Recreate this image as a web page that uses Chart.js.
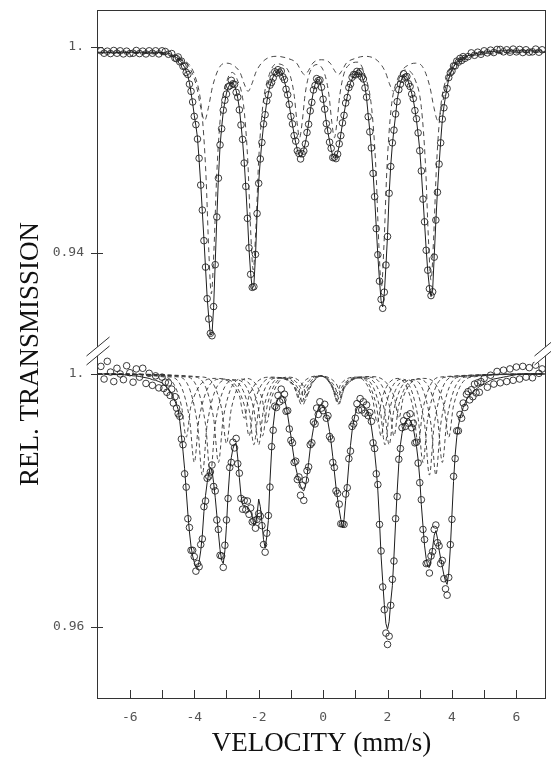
<!DOCTYPE html>
<html>
<head>
<meta charset="utf-8">
<script src="https://cdn.jsdelivr.net/npm/chart.js@4.4.1/dist/chart.umd.min.js"></script>
<style>
  html, body { margin: 0; padding: 0; background: #fff; }
  #wrap { width: 551px; height: 765px; }
</style>
</head>
<body>
<div id="wrap"><canvas id="spectrum" width="551" height="765"></canvas></div>
<script>
// x axis ticks (mm/s) and y tick values for the two panels
const velocityTicks = [-6, -5, -4, -3, -2, -1, 0, 1, 2, 3, 4, 5, 6];
const topTickValues = [1.0, 0.94];
const topTickLabels = ['1.', '0.94'];
const bottomTickValues = [1.0, 0.96];
const bottomTickLabels = ['1.', '0.96'];

// upper spectrum
const topVelocity = [
  -6.9,-6.8,-6.7,-6.6,-6.5,-6.4,-6.3,-6.2,-6.1,-6.0,
  -5.9,-5.8,-5.7,-5.6,-5.5,-5.4,-5.3,-5.2,-5.1,-5.0,
  -4.9,-4.8,-4.7,-4.6,
  -4.55,-4.5,-4.45,-4.4,-4.35,-4.3,-4.25,-4.2,-4.15,-4.1,
  -4.05,-4.0,-3.95,-3.9,-3.85,-3.8,-3.75,-3.7,-3.65,-3.6,
  -3.55,-3.5,-3.45,-3.4,-3.35,-3.3,-3.25,-3.2,-3.15,-3.1,
  -3.05,-3.0,-2.95,-2.9,-2.85,-2.8,-2.75,-2.7,-2.65,-2.6,
  -2.55,-2.5,-2.45,-2.4,-2.35,-2.3,-2.25,-2.2,-2.15,-2.1,
  -2.05,-2.0,-1.95,-1.9,-1.85,-1.8,-1.75,-1.7,-1.65,-1.6,
  -1.55,-1.5,-1.45,-1.4,-1.35,-1.3,-1.25,-1.2,-1.15,-1.1,
  -1.05,-1.0,-0.95,-0.9,-0.85,-0.8,-0.75,-0.7,-0.65,-0.6,
  -0.55,-0.5,-0.45,-0.4,-0.35,-0.3,-0.25,-0.2,-0.15,-0.1,
  -0.05,0.0,0.05,0.1,0.15,0.2,0.25,0.3,0.35,0.4,
  0.45,0.5,0.55,0.6,0.65,0.7,0.75,0.8,0.85,0.9,
  0.95,1.0,1.05,1.1,1.15,1.2,1.25,1.3,1.35,1.4,
  1.45,1.5,1.55,1.6,1.65,1.7,1.75,1.8,1.85,1.9,
  1.95,2.0,2.05,2.1,2.15,2.2,2.25,2.3,2.35,2.4,
  2.45,2.5,2.55,2.6,2.65,2.7,2.75,2.8,2.85,2.9,
  2.95,3.0,3.05,3.1,3.15,3.2,3.25,3.3,3.35,3.4,
  3.45,3.5,3.55,3.6,3.65,3.7,3.75,3.8,3.85,3.9,
  3.95,4.0,4.05,4.1,4.15,4.2,4.25,4.3,4.35,4.4,
  4.5,4.6,4.7,4.8,4.9,5.0,5.1,5.2,5.3,5.4,
  5.5,5.6,5.7,5.8,5.9,6.0,6.1,6.2,6.3,6.4,
  6.5,6.6,6.7,6.8
];
const topObserved = [
  .9988,.9981,.9987,.9980,.9989,.9981,.9988,.9979,.9987,.9980,
  .9981,.9989,.9980,.9987,.9979,.9988,.9981,.9988,.9979,.9988,
  .9986,.9978,.9980,.9967,
  .9965,.9970,.9956,.9958,.9943,.9944,.9925,.9919,.9891,.9870,
  .9839,.9797,.9773,.9731,.9675,.9597,.9524,.9435,.9358,.9266,
  .9207,.9165,.9158,.9243,.9365,.9504,.9617,.9714,.9761,.9815,
  .9844,.9862,.9883,.9886,.9902,.9892,.9890,.9867,.9853,.9816,
  .9772,.9730,.9661,.9593,.9500,.9414,.9337,.9299,.9301,.9395,
  .9514,.9602,.9673,.9721,.9775,.9802,.9842,.9860,.9888,.9896,
  .9909,.9927,.9923,.9933,.9924,.9929,.9912,.9904,.9876,.9860,
  .9832,.9797,.9775,.9741,.9725,.9697,.9689,.9673,.9688,.9696,
  .9717,.9750,.9774,.9813,.9838,.9874,.9887,.9907,.9901,.9903,
  .9882,.9847,.9818,.9776,.9755,.9722,.9704,.9677,.9678,.9674,
  .9687,.9717,.9741,.9778,.9800,.9836,.9852,.9881,.9891,.9911,
  .9919,.9918,.9928,.9922,.9927,.9912,.9906,.9880,.9853,.9796,
  .9752,.9705,.9631,.9563,.9470,.9394,.9317,.9264,.9238,.9285,
  .9364,.9447,.9573,.9651,.9720,.9757,.9804,.9840,.9875,.9891,
  .9905,.9921,.9911,.9913,.9892,.9884,.9862,.9849,.9814,.9790,
  .9749,.9697,.9638,.9556,.9490,.9407,.9349,.9295,.9275,.9286,
  .9387,.9495,.9576,.9658,.9720,.9789,.9822,.9859,.9878,.9910,
  .9924,.9929,.9944,.9944,.9958,.9955,.9966,.9960,.9971,.9966,
  .9971,.9982,.9975,.9984,.9978,.9988,.9982,.9990,.9983,.9992,
  .9992,.9985,.9991,.9984,.9993,.9985,.9992,.9983,.9991,.9984,
  .9985,.9993,.9984,.9991
];
const topFit = [
  .9984,.9984,.9984,.9984,.9984,.9984,.9984,.9984,.9984,.9984,
  .9984,.9984,.9984,.9984,.9984,.9984,.9984,.9984,.9983,.9983,
  .9982,.9981,.9977,.9971,
  .9968,.9965,.9960,.9955,.9948,.9940,.9928,.9915,.9895,.9865,
  .9835,.9800,.9770,.9735,.9670,.9600,.9520,.9440,.9355,.9270,
  .9210,.9160,.9162,.9240,.9370,.9500,.9620,.9710,.9765,.9810,
  .9840,.9865,.9880,.9890,.9897,.9895,.9886,.9872,.9850,.9820,
  .9775,.9725,.9665,.9590,.9505,.9410,.9340,.9295,.9305,.9390,
  .9510,.9605,.9670,.9725,.9770,.9805,.9838,.9865,.9885,.9900,
  .9912,.9922,.9927,.9930,.9929,.9925,.9915,.9900,.9880,.9855,
  .9828,.9800,.9772,.9745,.9720,.9700,.9685,.9678,.9685,.9700,
  .9720,.9745,.9778,.9810,.9843,.9870,.9890,.9903,.9905,.9898,
  .9878,.9850,.9815,.9780,.9750,.9725,.9700,.9682,.9675,.9678,
  .9690,.9712,.9745,.9775,.9805,.9832,.9855,.9877,.9895,.9906,
  .9915,.9921,.9925,.9926,.9922,.9915,.9902,.9885,.9850,.9800,
  .9755,.9700,.9635,.9560,.9475,.9390,.9320,.9260,.9242,.9280,
  .9360,.9450,.9570,.9655,.9715,.9760,.9800,.9845,.9872,.9895,
  .9908,.9916,.9915,.9910,.9897,.9880,.9865,.9845,.9818,.9785,
  .9745,.9700,.9635,.9560,.9485,.9410,.9345,.9300,.9272,.9290,
  .9390,.9490,.9580,.9655,.9725,.9785,.9825,.9855,.9882,.9905,
  .9920,.9932,.9941,.9948,.9953,.9958,.9962,.9965,.9968,.9970,
  .9974,.9977,.9979,.9981,.9983,.9984,.9985,.9986,.9987,.9987,
  .9988,.9988,.9988,.9988,.9988,.9988,.9988,.9988,.9988,.9988,
  .9988,.9988,.9988,.9988
];
// upper subspectra: [velocity, transmission]
const topSiteA = [
  [-7.0,.9983],[-5.0,.9977],[-4.5,.9966],[-3.97,.9912],[-3.77,.9814],[-3.64,.9632],[-3.55,.9407],
  [-3.47,.928],[-3.39,.9407],[-3.30,.9632],[-3.17,.9814],[-2.97,.9905],[-2.82,.9925],[-2.67,.9905],
  [-2.47,.983],[-2.34,.967],[-2.25,.9465],[-2.17,.935],[-2.09,.9465],[-2.0,.967],[-1.87,.983],
  [-1.67,.9919],[-1.45,.995],[-1.23,.9945],[-1.03,.9918],[-0.9,.986],[-0.81,.978],[-0.73,.9735],
  [-0.65,.978],[-0.56,.986],[-0.43,.992],[-0.19,.9948],[0.05,.992],[0.18,.986],[0.27,.978],
  [0.35,.9735],[0.43,.978],[0.52,.986],[0.65,.9922],[0.85,.995],[1.08,.9955],[1.31,.9914],
  [1.51,.9818],[1.64,.9643],[1.73,.9424],[1.81,.930],[1.89,.9424],[1.98,.9643],[2.11,.9818],
  [2.31,.9905],[2.57,.9932],[2.85,.9905],[3.05,.9823],[3.18,.9653],[3.27,.944],[3.35,.932],
  [3.43,.944],[3.52,.9653],[3.65,.9823],[3.85,.9912],[4.35,.9966],[5.0,.9977],[6.9,.9984]
];
const topSiteB = [
  [-7.0,.9984],[-5.0,.998],[-4.6,.9968],[-4.3,.9955],[-4.18,.9945],[-3.93,.9885],[-3.8,.9823],
  [-3.68,.9785],[-3.56,.9823],[-3.43,.9885],[-3.18,.9945],[-3.0,.9952],[-2.83,.9948],[-2.58,.9925],
  [-2.45,.9892],[-2.33,.987],[-2.21,.9892],[-2.08,.9927],[-1.83,.996],[-1.45,.9972],[-1.07,.9965],
  [-0.82,.9952],[-0.69,.9931],[-0.57,.9918],[-0.45,.9931],[-0.32,.9952],[-0.05,.9962],[0.22,.9952],
  [0.35,.9931],[0.47,.9918],[0.59,.9931],[0.72,.9952],[0.97,.9965],[1.3,.9972],[1.68,.996],
  [1.93,.9927],[2.06,.9892],[2.18,.987],[2.30,.9892],[2.43,.9927],[2.68,.9948],[2.87,.9952],
  [3.06,.9945],[3.31,.9885],[3.44,.9823],[3.56,.9785],[3.68,.9823],[3.81,.9885],[4.06,.9945],
  [4.18,.9957],[4.5,.9968],[5.0,.998],[6.9,.9985]
];

// lower spectrum
const bottomVelocity = [
  -6.9,-6.8,-6.7,-6.6,-6.5,-6.4,-6.3,-6.2,-6.1,-6.0,
  -5.9,-5.8,-5.7,-5.6,-5.5,-5.4,-5.3,-5.2,-5.1,
  -5.0,-4.95,-4.9,-4.85,-4.8,-4.75,-4.7,-4.65,-4.6,-4.55,
  -4.5,-4.45,-4.4,-4.35,-4.3,-4.25,-4.2,-4.15,-4.1,-4.05,
  -4.0,-3.95,-3.9,-3.85,-3.8,-3.75,-3.7,-3.65,-3.6,-3.55,
  -3.5,-3.45,-3.4,-3.35,-3.3,-3.25,-3.2,-3.15,-3.1,-3.05,
  -3.0,-2.95,-2.9,-2.85,-2.8,-2.75,-2.7,-2.65,-2.6,-2.55,
  -2.5,-2.45,-2.4,-2.35,-2.3,-2.25,-2.2,-2.15,-2.1,-2.05,
  -2.0,-1.95,-1.9,-1.85,-1.8,-1.75,-1.7,-1.65,-1.6,-1.55,
  -1.5,-1.45,-1.4,-1.35,-1.3,-1.25,-1.2,-1.15,-1.1,-1.05,
  -1.0,-0.95,-0.9,-0.85,-0.8,-0.75,-0.7,-0.65,-0.6,-0.55,
  -0.5,-0.45,-0.4,-0.35,-0.3,-0.25,-0.2,-0.15,-0.1,-0.05,
  0.0,0.05,0.1,0.15,0.2,0.25,0.3,0.35,0.4,0.45,
  0.5,0.55,0.6,0.65,0.7,0.75,0.8,0.85,0.9,0.95,
  1.0,1.05,1.1,1.15,1.2,1.25,1.3,1.35,1.4,1.45,
  1.5,1.55,1.6,1.65,1.7,1.75,1.8,1.85,1.9,1.95,
  2.0,2.05,2.1,2.15,2.2,2.25,2.3,2.35,2.4,2.45,
  2.5,2.55,2.6,2.65,2.7,2.75,2.8,2.85,2.9,2.95,
  3.0,3.05,3.1,3.15,3.2,3.25,3.3,3.35,3.4,3.45,
  3.5,3.55,3.6,3.65,3.7,3.75,3.8,3.85,3.9,3.95,
  4.0,4.05,4.1,4.15,4.2,4.25,4.3,4.35,4.4,4.45,
  4.5,4.55,4.6,4.65,4.7,4.75,4.8,4.85,4.9,
  5.0,5.1,5.2,5.3,5.4,5.5,5.6,5.7,5.8,5.9,
  6.0,6.1,6.2,6.3,6.4,6.5,6.6,6.7,6.8
];
const bottomObserved = [
  1.0012,.9992,1.0020,1.0003,.9988,1.0009,1.0000,.9991,1.0013,1.0002,
  .9987,1.0008,.9995,1.0009,.9985,1.0001,.9982,.9997,.9978,
  .9995,.9977,.9987,.9971,.9986,.9966,.9976,.9954,.9964,.9946,
  .9937,.9933,.9897,.9888,.9842,.9821,.9771,.9757,.9721,.9721,
  .9711,.9688,.9700,.9695,.9730,.9739,.9790,.9799,.9835,.9838,
  .9845,.9856,.9822,.9815,.9769,.9754,.9713,.9712,.9694,.9729,
  .9769,.9803,.9852,.9860,.9892,.9883,.9898,.9858,.9843,.9803,
  .9786,.9800,.9785,.9799,.9778,.9788,.9766,.9768,.9756,.9770,
  .9779,.9775,.9760,.9730,.9718,.9748,.9776,.9821,.9885,.9911,
  .9949,.9947,.9966,.9956,.9976,.9959,.9968,.9941,.9942,.9913,
  .9895,.9891,.9860,.9862,.9833,.9837,.9808,.9824,.9800,.9832,
  .9847,.9853,.9888,.9891,.9924,.9921,.9946,.9936,.9956,.9946,
  .9942,.9952,.9930,.9934,.9901,.9897,.9860,.9852,.9815,.9811,
  .9794,.9763,.9763,.9762,.9810,.9820,.9866,.9878,.9917,.9921,
  .9930,.9953,.9943,.9961,.9943,.9956,.9938,.9951,.9934,.9939,
  .9925,.9891,.9882,.9842,.9825,.9762,.9720,.9663,.9627,.9590,
  .9572,.9585,.9634,.9675,.9704,.9771,.9806,.9865,.9882,.9915,
  .9926,.9917,.9934,.9922,.9937,.9915,.9922,.9891,.9892,.9859,
  .9828,.9801,.9754,.9738,.9700,.9701,.9685,.9712,.9719,.9754,
  .9761,.9733,.9728,.9700,.9705,.9676,.9660,.9650,.9678,.9730,
  .9770,.9838,.9866,.9910,.9910,.9936,.9930,.9954,.9947,.9968,
  .9972,.9959,.9975,.9964,.9984,.9970,.9986,.9971,.9988,
  .9993,.9979,.9998,.9984,1.0004,.9986,1.0006,.9988,1.0008,.9990,
  1.0011,.9992,1.0012,.9995,1.0010,.9994,1.0014,1.0001,1.0008
];
const bottomFit = [
  1.0,1.0,1.0,1.0,.9999,.9999,.9999,.9999,.9998,.9998,
  .9997,.9997,.9996,.9995,.9994,.9993,.9991,.9990,.9988,
  .9986,.9984,.9981,.9979,.9976,.9972,.9968,.9963,.9957,.9951,
  .9944,.9925,.9903,.9878,.9850,.9815,.9780,.9750,.9727,.9712,
  .9702,.9695,.9694,.9703,.9720,.9745,.9782,.9808,.9828,.9843,
  .9852,.9848,.9828,.9805,.9777,.9748,.9722,.9705,.9700,.9720,
  .9760,.9810,.9846,.9868,.9882,.9889,.9890,.9867,.9836,.9808,
  .9793,.9792,.9791,.9789,.9786,.9782,.9775,.9761,.9762,.9778,
  .9802,.9790,.9766,.9738,.9725,.9742,.9768,.9830,.9878,.9918,
  .9940,.9954,.9960,.9964,.9966,.9965,.9960,.9950,.9935,.9918,
  .9902,.9883,.9866,.9852,.9841,.9831,.9823,.9817,.9815,.9822,
  .9838,.9860,.9882,.9899,.9914,.9927,.9938,.9945,.9949,.9951,
  .9949,.9944,.9936,.9924,.9909,.9891,.9869,.9845,.9821,.9802,
  .9785,.9770,.9757,.9770,.9800,.9826,.9858,.9887,.9910,.9926,
  .9937,.9945,.9949,.9951,.9951,.9950,.9947,.9944,.9940,.9930,
  .9916,.9898,.9876,.9850,.9815,.9768,.9712,.9672,.9635,.9605,
  .9596,.9608,.9640,.9665,.9712,.9765,.9815,.9858,.9888,.9906,
  .9917,.9924,.9928,.9930,.9927,.9921,.9914,.9900,.9885,.9864,
  .9835,.9793,.9760,.9728,.9708,.9695,.9694,.9705,.9725,.9745,
  .9752,.9740,.9722,.9708,.9695,.9682,.9672,.9667,.9685,.9725,
  .9777,.9830,.9872,.9900,.9918,.9930,.9939,.9947,.9953,.9959,
  .9963,.9966,.9969,.9972,.9974,.9976,.9978,.9980,.9981,
  .9984,.9987,.9990,.9992,.9993,.9994,.9995,.9996,.9997,.9998,
  .9999,.9999,1.0,1.0,1.0,1.0,1.0,1.0,1.0
];
// lower subspectra (field distribution): [velocity, transmission]
const bottomSite1 = [
  [-7,1.0],[-4.9,.9995],[-4.4,.995],[-4.25,.990],[-4.1,.995],[-3.35,.9993],[-2.6,.9965],[-2.45,.993],
  [-2.3,.9965],[-1.62,.9995],[-0.95,.9985],[-0.8,.997],[-0.65,.9985],[-0.12,.9997],[0.4,.9985],
  [0.55,.997],[0.7,.9985],[1.45,.9996],[2.2,.9965],[2.35,.993],[2.5,.9965],[3.12,.9993],[3.75,.995],
  [3.9,.990],[4.05,.995],[4.6,.9995],[6.9,1.0]
];
const bottomSite2 = [
  [-7,1.0],[-4.7,.9995],[-4.15,.993],[-4.0,.986],[-3.85,.993],[-3.15,.9992],[-2.45,.9951],[-2.3,.9902],
  [-2.15,.9951],[-1.52,.9994],[-0.89,.9979],[-0.74,.9958],[-0.59,.9979],[-0.11,.9997],[0.37,.9979],
  [0.52,.9958],[0.67,.9979],[1.36,.9995],[2.05,.9951],[2.2,.9902],[2.35,.9951],[2.95,.9992],[3.55,.993],
  [3.7,.986],[3.85,.993],[4.4,.9995],[6.9,1.0]
];
const bottomSite3 = [
  [-7,1.0],[-4.45,.9995],[-3.9,.992],[-3.75,.984],[-3.6,.992],[-2.95,.9991],[-2.3,.9944],[-2.15,.9888],
  [-2.0,.9944],[-1.42,.9994],[-0.83,.9976],[-0.68,.9952],[-0.53,.9976],[-0.1,.9997],[0.34,.9976],
  [0.49,.9952],[0.64,.9976],[1.27,.9994],[1.9,.9944],[2.05,.9888],[2.2,.9944],[2.78,.9991],[3.35,.992],
  [3.5,.984],[3.65,.992],[4.2,.9995],[6.9,1.0]
];
const bottomSite4 = [
  [-7,1.0],[-4.2,.9995],[-3.65,.992],[-3.5,.984],[-3.35,.992],[-2.75,.9991],[-2.15,.9944],[-2.0,.9888],
  [-1.85,.9944],[-1.31,.9994],[-0.77,.9976],[-0.62,.9952],[-0.47,.9976],[-0.08,.9997],[0.31,.9976],
  [0.46,.9952],[0.61,.9976],[1.19,.9994],[1.77,.9944],[1.92,.9888],[2.07,.9944],[2.61,.9991],[3.15,.992],
  [3.3,.984],[3.45,.992],[4.0,.9995],[6.9,1.0]
];
const bottomSite5 = [
  [-7,1.0],[-3.95,.9995],[-3.4,.993],[-3.25,.986],[-3.1,.993],[-2.56,.9992],[-2.03,.9951],[-1.88,.9902],
  [-1.73,.9951],[-1.22,.9994],[-0.71,.9979],[-0.56,.9958],[-0.41,.9979],[-0.06,.9997],[0.28,.9979],
  [0.43,.9958],[0.58,.9979],[1.12,.9995],[1.65,.9951],[1.8,.9902],[1.95,.9951],[2.45,.9992],[2.95,.993],
  [3.1,.986],[3.25,.993],[3.8,.9995],[6.9,1.0]
];
const bottomSite6 = [
  [-7,1.0],[-3.7,.9995],[-3.15,.9945],[-3.0,.989],[-2.85,.9945],[-2.38,.9993],[-1.9,.9962],[-1.75,.9923],
  [-1.6,.9962],[-1.13,.9995],[-0.65,.9984],[-0.5,.9967],[-0.35,.9984],[-0.05,.9997],[0.25,.9984],
  [0.4,.9967],[0.55,.9984],[1.04,.9995],[1.53,.9962],[1.68,.9923],[1.83,.9962],[2.32,.9993],[2.8,.9945],
  [2.95,.989],[3.1,.9945],[3.6,.9995],[6.9,1.0]
];

const toPoints = (xs, ys) => xs.map((x, i) => ({ x: x, y: ys[i] }));
const fromPairs = arr => arr.map(p => ({ x: p[0], y: p[1] }));

const inkColor = '#1e1e1e';
const tickFont = { family: 'DejaVu Sans Mono', size: 13 };
const titleFont = { family: 'Liberation Serif', size: 27 };

function observedSet(points, axis) {
  return {
    data: points, yAxisID: axis, showLine: false,
    pointRadius: 3.3, pointStyle: 'circle', pointBorderWidth: 0.9,
    pointBorderColor: '#262626', pointBackgroundColor: 'rgba(0,0,0,0)'
  };
}
function fitSet(points, axis) {
  return { data: points, yAxisID: axis, borderColor: inkColor, borderWidth: 1, pointRadius: 0 };
}
function siteSet(points, axis, dash) {
  return {
    data: points, yAxisID: axis, borderColor: '#333', borderWidth: 0.9, borderDash: dash,
    pointRadius: 0, cubicInterpolationMode: 'monotone'
  };
}

// frame, inward ticks and the axis-break marks
const framePlugin = {
  id: 'frame',
  afterDraw(chart) {
    const { ctx, chartArea: a, scales } = chart;
    ctx.save();
    ctx.strokeStyle = '#333';
    ctx.lineWidth = 1;
    ctx.strokeRect(a.left + 0.5, a.top + 0.5, a.right - a.left - 1, a.bottom - a.top);

    ctx.beginPath();
    velocityTicks.forEach(v => {
      const px = Math.round(scales.x.getPixelForValue(v)) + 0.5;
      ctx.moveTo(px, a.bottom);
      ctx.lineTo(px, a.bottom - 8);
    });
    topTickValues.forEach(v => {
      const py = Math.round(scales.yTop.getPixelForValue(v)) + 0.5;
      ctx.moveTo(a.left - 6, py);
      ctx.lineTo(a.left + 6, py);
    });
    bottomTickValues.forEach(v => {
      const py = Math.round(scales.yBottom.getPixelForValue(v)) + 0.5;
      ctx.moveTo(a.left - 6, py);
      ctx.lineTo(a.left + 6, py);
    });
    ctx.stroke();

    const breakY = 351;
    [a.left + 0.5, a.right - 0.5].forEach(x0 => {
      ctx.fillStyle = '#fff';
      ctx.beginPath();
      ctx.moveTo(x0 - 11, breakY + 5);
      ctx.lineTo(x0 + 12, breakY - 14);
      ctx.lineTo(x0 + 12, breakY - 5);
      ctx.lineTo(x0 - 11, breakY + 14);
      ctx.closePath();
      ctx.fill();
      ctx.beginPath();
      ctx.moveTo(x0 - 11, breakY + 5);
      ctx.lineTo(x0 + 12, breakY - 14);
      ctx.moveTo(x0 - 11, breakY + 14);
      ctx.lineTo(x0 + 12, breakY - 5);
      ctx.stroke();
    });
    ctx.restore();
  }
};

function zeroPadding(s) {
  s.paddingTop = 0; s.paddingBottom = 0; s.paddingLeft = 0; s.paddingRight = 0;
}

new Chart(document.getElementById('spectrum'), {
  type: 'line',
  data: {
    datasets: [
      fitSet(toPoints(topVelocity, topFit), 'yTop'),
      observedSet(toPoints(topVelocity, topObserved), 'yTop'),
      siteSet(fromPairs(topSiteA), 'yTop', [5, 4]),
      siteSet(fromPairs(topSiteB), 'yTop', [5, 4]),
      fitSet(toPoints(bottomVelocity, bottomFit), 'yBottom'),
      observedSet(toPoints(bottomVelocity, bottomObserved), 'yBottom'),
      siteSet(fromPairs(bottomSite1), 'yBottom', [4, 3]),
      siteSet(fromPairs(bottomSite2), 'yBottom', [4, 3]),
      siteSet(fromPairs(bottomSite3), 'yBottom', [4, 3]),
      siteSet(fromPairs(bottomSite4), 'yBottom', [4, 3]),
      siteSet(fromPairs(bottomSite5), 'yBottom', [4, 3]),
      siteSet(fromPairs(bottomSite6), 'yBottom', [4, 3])
    ]
  },
  options: {
    responsive: false,
    animation: false,
    devicePixelRatio: 1,
    layout: { padding: { top: 10, right: 5, left: 0, bottom: 0 } },
    plugins: { legend: { display: false }, tooltip: { enabled: false } },
    scales: {
      x: {
        type: 'linear', min: -7.02, max: 6.92,
        afterBuildTicks: s => { s.ticks = velocityTicks.map(v => ({ value: v })); },
        afterFit: s => { s.height = 67; zeroPadding(s); },
        grid: { display: false, drawTicks: false },
        border: { display: false },
        ticks: {
          autoSkip: false, maxRotation: 0, padding: 12, font: tickFont, color: '#555',
          callback: v => (v % 2 === 0 ? String(v) : '')
        },
        title: { display: true, text: 'VELOCITY (mm/s)', font: titleFont, color: '#111', padding: { top: 0, bottom: 5 } }
      },
      yTop: {
        type: 'linear', position: 'left', weight: 1, min: 0.81028, max: 1.01069,
        afterBuildTicks: s => { s.ticks = topTickValues.map(v => ({ value: v })); },
        afterFit: s => { s.width = 97; zeroPadding(s); },
        grid: { display: false, drawTicks: false },
        border: { display: false },
        ticks: { padding: 13, font: tickFont, color: '#555', callback: (v, i) => topTickLabels[i] },
        title: { display: true, text: 'REL. TRANSMISSION', font: titleFont, color: '#111', padding: { top: 15, bottom: 0 } }
      },
      yBottom: {
        // zero-width axis sitting on the plot edge; mirrored labels are pulled back out to the left
        type: 'linear', position: 'left', weight: 0, min: 0.94873, max: 1.05759,
        afterBuildTicks: s => { s.ticks = bottomTickValues.map(v => ({ value: v })); },
        afterFit: s => { s.width = 0; zeroPadding(s); },
        grid: { display: false, drawTicks: false },
        border: { display: false },
        ticks: {
          mirror: true, crossAlign: 'far', padding: -44, font: tickFont, color: '#555',
          callback: (v, i) => bottomTickLabels[i]
        }
      }
    }
  },
  plugins: [framePlugin]
});
</script>
</body>
</html>
